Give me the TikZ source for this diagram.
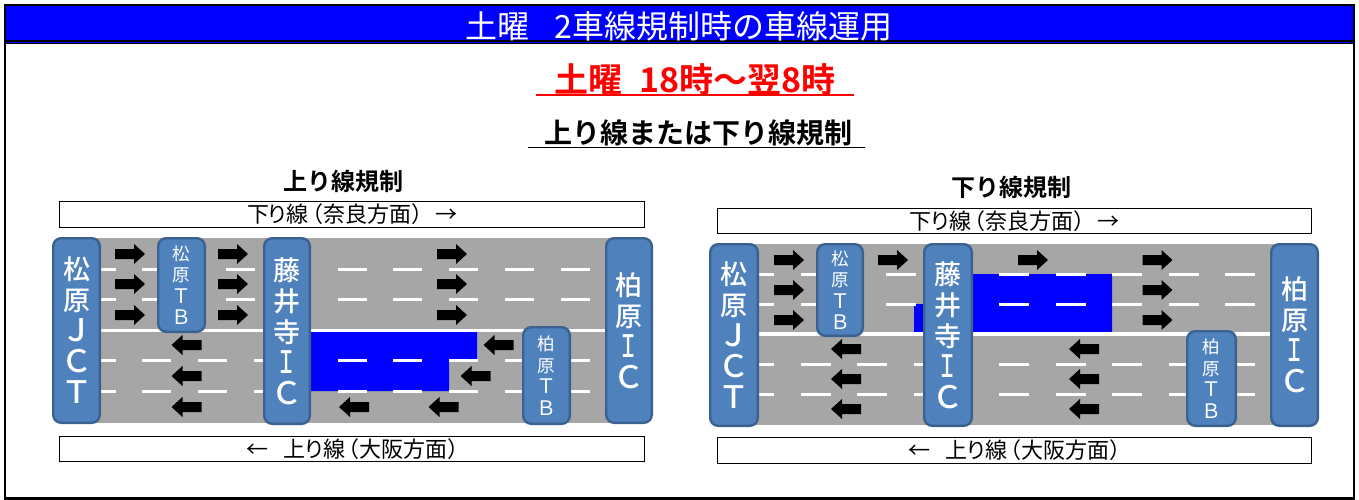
\documentclass[tikz,border=0pt]{standalone}
\usepackage{fontspec}
\setmainfont{Noto Sans CJK JP}
\newfontfamily\boldjp{Noto Sans CJK JP Bold}
\newfontfamily\medjp{Noto Sans CJK JP Medium}
\definecolor{roadgray}{HTML}{A6A6A6}
\definecolor{boxfill}{HTML}{4F81BD}
\definecolor{boxedge}{HTML}{3A618F}
\definecolor{pureblue}{HTML}{0000FF}
\definecolor{purered}{HTML}{FF0000}
\newcommand{\fs}[2]{\fontsize{#1}{#2}\selectfont}
\newcommand{\BL}[1]{{\fontsize{31}{31}\selectfont #1}}
\newcommand{\SL}[1]{{\fontsize{20}{20}\selectfont #1}}
\newcommand{\BI}{\scalebox{0.65}[1]{\BL{Ｉ}}}
\newcommand{\downtext}{下\hspace{-.1em}り\hspace{-.1em}線\hspace{-.35em}（奈良方面）\hspace{.1em}→}
\newcommand{\uptext}{\hspace*{11pt}←\hspace{.7em}上\hspace{-.1em}り\hspace{-.1em}線\hspace{-.35em}（大阪方面）}
\tikzset{
  x=1pt,y=-1pt,
  pics/rarrow/.style={code={\fill[black] (-15,-5)--(4,-5)--(4,-10)--(15,0)--(4,10)--(4,5)--(-15,5)--cycle;}},
  pics/larrow/.style={code={\fill[black] (15,-5)--(-4,-5)--(-4,-10)--(-15,0)--(-4,10)--(-4,5)--(15,5)--cycle;}},
  lane/.style={draw=white,line width=3pt},
  centerline/.style={draw=white,line width=3.2pt},
  place/.style={draw=boxedge,line width=2.4pt,fill=boxfill,rounded corners=8pt,text=white,align=center,inner sep=0pt,anchor=north west},
  bigplace/.style={place,font=\medjp\fs{27}{31}},
  smallplace/.style={place,font=\fs{17.5}{21.5}},
  dirbox/.style={draw=black,line width=1.3pt,fill=white,anchor=north west,inner sep=0pt,font=\fs{22}{24}},
  subtitle/.style={font=\boldjp\fs{24}{26},text=black},
}
\begin{document}
\begin{tikzpicture}
\useasboundingbox (0,0) rectangle (1359,500);
\fill[white] (0,0) rectangle (1359,500);
% frame and title
\fill[pureblue] (5,5) rectangle (1354,44);
\draw[black,line width=2pt] (5,41) -- (1354,41);
\draw[black,line width=1.4pt] (5,43.8) -- (1354,43.8);
\draw[black,line width=2.3pt] (5,5) rectangle (1353.8,498.6);
\node[text=white,font=\fs{32}{34}] (title) at (679,26) {土曜\hspace{0.8em}2車線規制時の車線運用};
\node[text=purered,font=\boldjp\fs{34}{36}] (when) at (695,80) {土曜\hspace{0.5em}18時～翌8時};
\draw[purered,line width=2pt] (536,95.5) -- (854,95.5);
\node[font=\boldjp\fs{28}{30}] (which) at (698.5,133) {上り線または下り線規制};
\draw[black,line width=1.4pt] (528,147.5) -- (865,147.5);
% ---------- left
\node[subtitle] (ltitle) at (343.5,181) {上り線規制};
\node[dirbox,minimum width=585pt,minimum height=25.5pt] (ltop) at (59,201) {\downtext};
\node[dirbox,minimum width=585pt,minimum height=25.5pt] (lbot) at (59,435.5) {\uptext};
\fill[roadgray] (60,238) rectangle (640,423);
\fill[pureblue] (311,332) -- (477,332) -- (477,360) -- (449,360) -- (449,391) -- (311,391) -- cycle;
\foreach \a/\b in {101/116,142/157,226/255,338/367,393/422,449/478,505/534,561/590}{
  \draw[lane] (\a,269) -- (\b,269);
  \draw[lane] (\a,299.5) -- (\b,299.5);}
\foreach \a/\b in {101/116,142/171,198/227,254/263,338/367,393/422,449/478,505/522,571/590}{
  \draw[lane] (\a,360) -- (\b,360);
  \draw[lane] (\a,391) -- (\b,391);}
\draw[centerline] (101,330.5) -- (605,330.5);
\foreach \y in {254,284,315}{
  \pic at (130,\y) {rarrow};
  \pic at (233,\y) {rarrow};
  \pic at (452,\y) {rarrow};}
\foreach \y in {345,376,407}{\pic at (186.5,\y) {larrow};}
\pic at (498.5,345) {larrow};
\pic at (475.5,376) {larrow};
\pic at (443.5,407) {larrow};
\pic at (354,407) {larrow};
\node[bigplace,minimum width=46.6pt,minimum height=184.6pt] (lj) at (52,237) {松\\原\\\BL{Ｊ}\\\BL{Ｃ}\\\BL{Ｔ}};
\node[smallplace,minimum width=46.6pt,minimum height=93.6pt] (lt1) at (157,237) {松\\原\\\SL{Ｔ}\\\SL{Ｂ}};
\node[bigplace,minimum width=45.6pt,minimum height=185.6pt] (lf) at (263,237) {藤\\井\\寺\\\BI\\\BL{Ｃ}};
\node[smallplace,minimum width=46.6pt,minimum height=96.6pt] (lt2) at (522,326) {柏\\原\\\SL{Ｔ}\\\SL{Ｂ}};
\node[bigplace,minimum width=45.6pt,minimum height=184.6pt] (lk) at (605,237) {柏\\原\\\BI\\\BL{Ｃ}};
% ---------- right
\node[subtitle] (rtitle) at (1011.5,187) {下り線規制};
\node[dirbox,minimum width=594pt,minimum height=25.5pt] (rtop) at (717,207.5) {\downtext};
\node[dirbox,minimum width=594pt,minimum height=25.5pt] (rbot) at (717,437) {\uptext};
\fill[roadgray] (720,244) rectangle (1300,425);
\fill[pureblue] (973,274) -- (1112,274) -- (1112,333) -- (914,333) -- (914,304) -- (973,304) -- cycle;
\foreach \a/\b in {759/774,801/816,886/916,999/1029,1056/1086,1112/1142,1169/1199,1225/1255}{
  \draw[lane] (\a,274) -- (\b,274);
  \draw[lane] (\a,304) -- (\b,304);}
\foreach \a/\b in {759/774,801/831,857/887,914/923,999/1029,1056/1086,1112/1142,1169/1186,1237/1255}{
  \draw[lane] (\a,364) -- (\b,364);
  \draw[lane] (\a,394) -- (\b,394);}
\draw[centerline] (759,334) -- (1270,334);
\foreach \y in {260,290,320}{
  \pic at (789,\y) {rarrow};
  \pic at (1157.5,\y) {rarrow};}
\pic at (893,260) {rarrow};
\pic at (1033,260) {rarrow};
\foreach \y in {349,379,409}{
  \pic at (846,\y) {larrow};
  \pic at (1084,\y) {larrow};}
\node[bigplace,minimum width=47.6pt,minimum height=181.6pt] (rj) at (709,243) {松\\原\\\BL{Ｊ}\\\BL{Ｃ}\\\BL{Ｔ}};
\node[smallplace,minimum width=45.6pt,minimum height=91.6pt] (rt1) at (816,243) {松\\原\\\SL{Ｔ}\\\SL{Ｂ}};
\node[bigplace,minimum width=47.6pt,minimum height=181.6pt] (rf) at (923,243) {藤\\井\\寺\\\BI\\\BL{Ｃ}};
\node[smallplace,minimum width=48.6pt,minimum height=94.6pt] (rt2) at (1186,330) {柏\\原\\\SL{Ｔ}\\\SL{Ｂ}};
\node[bigplace,minimum width=46.6pt,minimum height=181.6pt] (rk) at (1270,243) {柏\\原\\\BI\\\BL{Ｃ}};
\end{tikzpicture}
\end{document}
